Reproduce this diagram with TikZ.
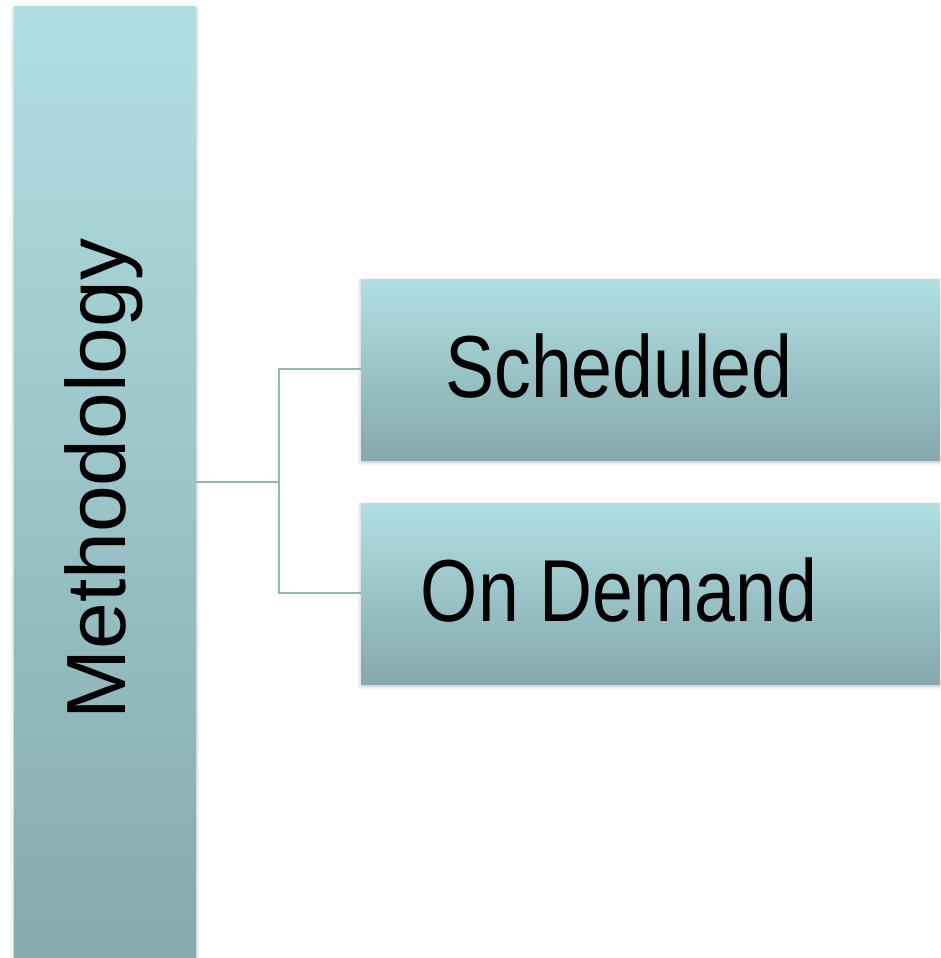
\documentclass[tikz,border=0pt]{standalone}
\usepackage{fontspec}
\setmainfont{Liberation Sans}
\usetikzlibrary{shadows.blur}
\definecolor{topc}{RGB}{176,223,227}
\definecolor{botc}{RGB}{133,169,172}
\definecolor{linec}{RGB}{147,179,183}
\tikzset{
  bar/.style={draw=none, top color=topc, bottom color=botc, blur shadow={shadow xshift=0pt, shadow yshift=-2pt, shadow blur steps=6, shadow blur radius=4pt, shadow opacity=25}},
  conn/.style={draw=linec, line width=1.5pt},
  childtext/.style={font=\fontsize{88}{100}\selectfont}
}
\begin{document}
\begin{tikzpicture}[x=1pt,y=-1pt]
\useasboundingbox (0,0) rectangle (940,958);
\clip (0,0) rectangle (940,958);
% left bar
\path[bar] (14,7) rectangle (196,975);
\node (m) [rotate=90, font=\fontsize{84}{100}\selectfont, anchor=center] at (104,479) {Methodology};
\coordinate (mr) at (196,482);
% child boxes
\path[bar] (361,279) rectangle (960,460);
\path[bar] (361,503) rectangle (960,684);
\coordinate (s) at (361,369);
\coordinate (d) at (361,593);
\node (st) [childtext] at (619,366) {\scalebox{0.835}[1]{Scheduled}};
\node (dt) [childtext] at (619,590) {\scalebox{0.835}[1]{On Demand}};
\coordinate (j) at (279,482);
\draw[conn] (mr) -- (j);
\draw[conn] (s) -| (j) |- (d);
\end{tikzpicture}
\end{document}
